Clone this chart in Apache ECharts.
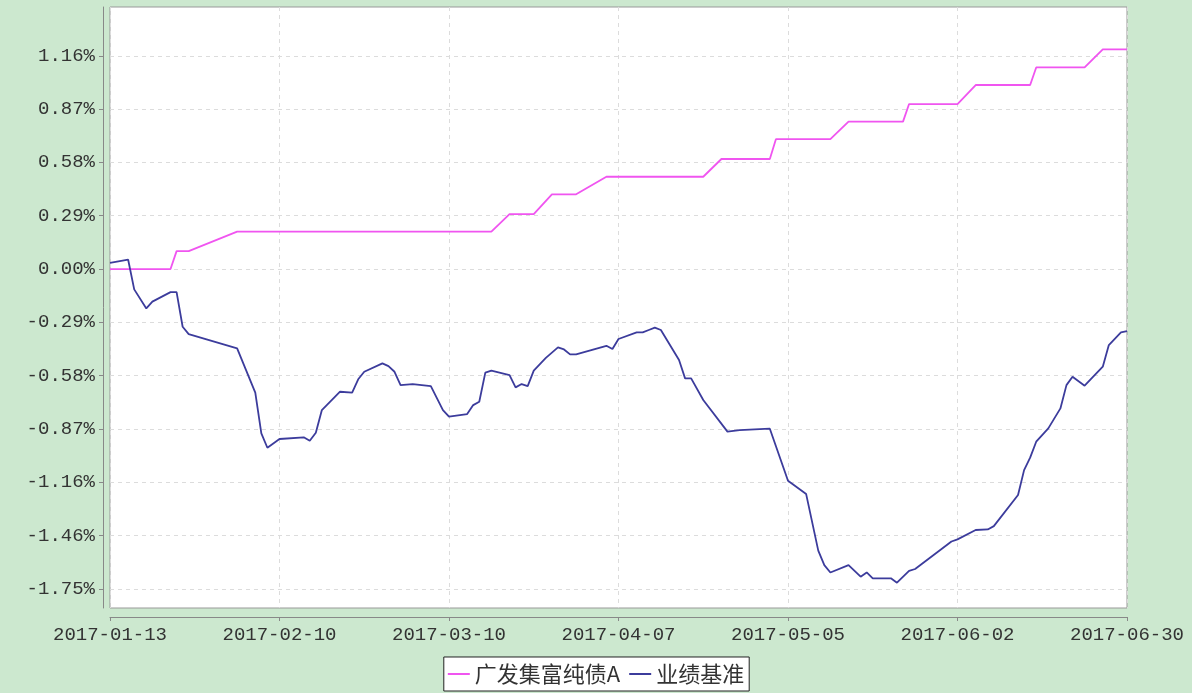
<!DOCTYPE html>
<html>
<head>
<meta charset="utf-8">
<script src="https://cdn.jsdelivr.net/npm/echarts@6/dist/echarts.min.js"></script>
<style>
html,body{margin:0;padding:0;background:#cce8cf;}
#c{width:1192px;height:693px;}
</style>
</head>
<body>
<div id="c"></div>
<script>
var startDate = '2017-01-13';
var endDate = '2017-06-30';
var seriesNames = ['广发集富纯债A', '业绩基准'];
var yTickValues = [-1.7466, -1.4555, -1.1644, -0.8733, -0.5822, -0.2911, 0, 0.2911, 0.5822, 0.8733, 1.1644];

var fundDates = ['2017-01-13','2017-01-23','2017-01-24','2017-01-26','2017-02-03','2017-03-17','2017-03-20','2017-03-24','2017-03-27','2017-03-31','2017-04-05','2017-04-21','2017-04-24','2017-05-02','2017-05-03','2017-05-12','2017-05-15','2017-05-24','2017-05-25','2017-06-02','2017-06-05','2017-06-14','2017-06-15','2017-06-23','2017-06-26','2017-06-30'];
var fundValues = [0, 0, 0.098, 0.098, 0.204, 0.204, 0.300, 0.300, 0.408, 0.408, 0.504, 0.504, 0.601, 0.601, 0.709, 0.709, 0.805, 0.805, 0.901, 0.901, 1.005, 1.005, 1.101, 1.101, 1.200, 1.200];

var benchDates = ['2017-01-13','2017-01-16','2017-01-17','2017-01-19','2017-01-20','2017-01-23','2017-01-24','2017-01-25','2017-01-26','2017-02-03','2017-02-06','2017-02-07','2017-02-08','2017-02-10','2017-02-14','2017-02-15','2017-02-16','2017-02-17','2017-02-20','2017-02-22','2017-02-23','2017-02-24','2017-02-27','2017-02-28','2017-03-01','2017-03-02','2017-03-04','2017-03-07','2017-03-09','2017-03-10','2017-03-13','2017-03-14','2017-03-15','2017-03-16','2017-03-17','2017-03-20','2017-03-21','2017-03-22','2017-03-23','2017-03-24','2017-03-26','2017-03-28','2017-03-29','2017-03-30','2017-03-31','2017-04-05','2017-04-06','2017-04-07','2017-04-10','2017-04-11','2017-04-12','2017-04-13','2017-04-14','2017-04-17','2017-04-18','2017-04-19','2017-04-21','2017-04-25','2017-04-27','2017-05-02','2017-05-05','2017-05-08','2017-05-10','2017-05-11','2017-05-12','2017-05-15','2017-05-17','2017-05-18','2017-05-19','2017-05-22','2017-05-23','2017-05-25','2017-05-26','2017-06-01','2017-06-02','2017-06-05','2017-06-07','2017-06-08','2017-06-12','2017-06-13','2017-06-14','2017-06-15','2017-06-17','2017-06-19','2017-06-20','2017-06-21','2017-06-23','2017-06-26','2017-06-27','2017-06-29','2017-06-30'];
var benchValues = [0.034, 0.051, -0.111, -0.215, -0.178, -0.126, -0.126, -0.315, -0.355, -0.433, -0.675, -0.897, -0.976, -0.928, -0.919, -0.938, -0.894, -0.770, -0.670, -0.675, -0.602, -0.561, -0.515, -0.530, -0.561, -0.634, -0.628, -0.639, -0.770, -0.806, -0.792, -0.743, -0.725, -0.566, -0.555, -0.579, -0.646, -0.628, -0.639, -0.555, -0.485, -0.428, -0.439, -0.466, -0.466, -0.419, -0.437, -0.382, -0.346, -0.346, -0.333, -0.320, -0.333, -0.497, -0.597, -0.597, -0.715, -0.888, -0.880, -0.872, -1.156, -1.229, -1.538, -1.617, -1.657, -1.617, -1.680, -1.657, -1.689, -1.689, -1.713, -1.648, -1.638, -1.488, -1.476, -1.425, -1.422, -1.404, -1.234, -1.098, -1.030, -0.943, -0.870, -0.761, -0.634, -0.588, -0.637, -0.533, -0.415, -0.346, -0.339];

var DAY = 86400000;
function toMs(s){ var p = s.split('-'); return Date.UTC(+p[0], +p[1]-1, +p[2]); }
var t0 = toMs(startDate);
function dayIdx(s){ return Math.round((toMs(s) - t0) / DAY); }
function fmtDay(d){
  var dt = new Date(t0 + d * DAY);
  var m = dt.getUTCMonth() + 1, dd = dt.getUTCDate();
  return dt.getUTCFullYear() + '-' + (m < 10 ? '0' : '') + m + '-' + (dd < 10 ? '0' : '') + dd;
}
function pairs(dates, vals){ return dates.map(function(d, i){ return [dayIdx(d), vals[i]]; }); }

var chart = echarts.init(document.getElementById('c'), null, {renderer: 'canvas'});
var axisFont = 'Liberation Mono';
chart.setOption({
  backgroundColor: '#cce8cf',
  animation: false,
  grid: {left: 110, right: 65, top: 7, bottom: 85, show: true, backgroundColor: '#ffffff', borderColor: '#999999', borderWidth: 1},
  xAxis: {
    type: 'value', min: 0, max: dayIdx(endDate), interval: 28,
    offset: 9,
    axisLine: {show: true, onZero: false, lineStyle: {color: '#888888'}},
    axisTick: {show: true, length: 4, lineStyle: {color: '#888888'}},
    axisLabel: {color: '#333333', fontFamily: axisFont, fontSize: 19, margin: 8, formatter: function(v){ return fmtDay(v); }},
    splitLine: {show: true, lineStyle: {color: '#dcdcdc', type: [4, 4]}}
  },
  yAxis: {
    type: 'value', min: -1.851, max: 1.431,
    offset: 7,
    axisLine: {show: true, onZero: false, lineStyle: {color: '#888888'}},
    axisTick: {show: true, length: 4, customValues: yTickValues, lineStyle: {color: '#888888'}},
    axisLabel: {color: '#333333', fontFamily: axisFont, fontSize: 19, margin: 8, customValues: yTickValues, formatter: function(v){ return v.toFixed(2) + '%'; }},
    splitLine: {show: true, lineStyle: {color: '#dcdcdc', type: [4, 4]}}
  },
  legend: {
    bottom: 2, left: 'center',
    backgroundColor: '#ffffff', borderColor: '#222222', borderWidth: 1, borderRadius: 0,
    padding: [6, 5, 6, 4],
    itemGap: 9, itemWidth: 22, itemHeight: 2, icon: 'rect',
    textStyle: {fontFamily: 'Noto Sans CJK SC', fontSize: 22, color: '#333333', padding: [0, 0, 0, 0]},
    data: seriesNames
  },
  series: [
    {name: seriesNames[0], type: 'line', showSymbol: false, symbol: 'none', data: pairs(fundDates, fundValues), lineStyle: {color: '#f055f0', width: 1.8}, itemStyle: {color: '#f055f0'}},
    {name: seriesNames[1], type: 'line', showSymbol: false, symbol: 'none', data: pairs(benchDates, benchValues), lineStyle: {color: '#3c3c9c', width: 1.8}, itemStyle: {color: '#3c3c9c'}}
  ]
});
</script>
</body>
</html>
